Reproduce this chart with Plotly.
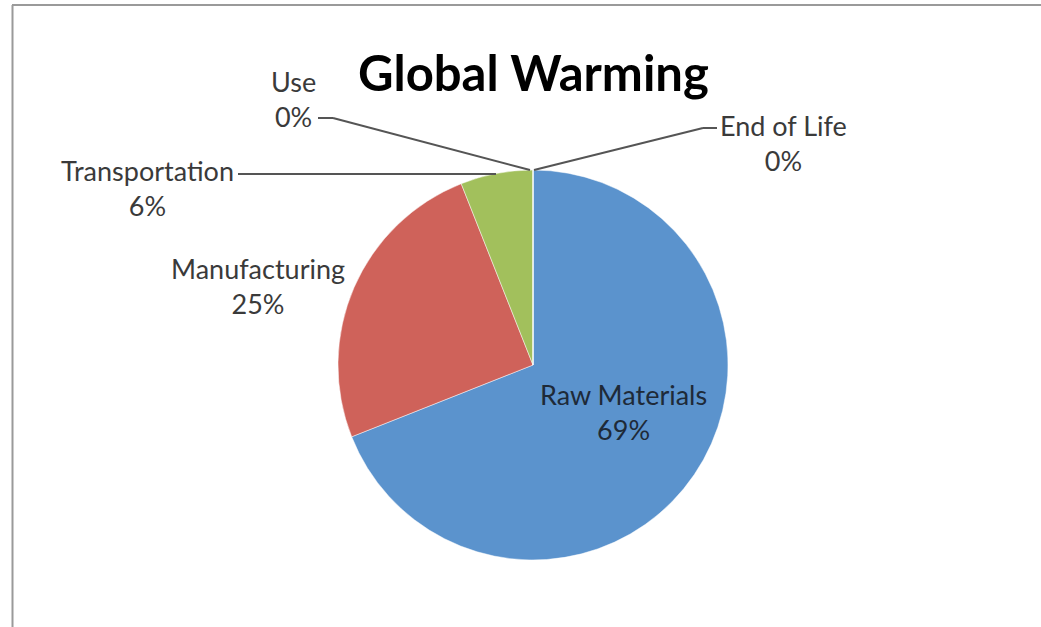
import plotly.graph_objects as go

W, H = 1041, 627

# ---- data ----
categories = ["Raw Materials", "Manufacturing", "Transportation", "Use", "End of Life"]
values = [69, 25, 6, 0, 0]
colors = ["#5B93CD", "#CF625A", "#A2C05C", "#8064A2", "#4BACC6"]
title_text = "Global Warming"

def px(x):
    return x / W

def py(y):
    return 1 - y / H

cx, cy, r = 533, 365, 195

fig = go.Figure(go.Pie(
    labels=categories,
    values=values,
    sort=False,
    direction="clockwise",
    rotation=0,
    marker=dict(colors=colors, line=dict(color="rgba(255,255,255,0.6)", width=0.8)),
    textinfo="none",
    hoverinfo="label+percent",
    showlegend=False,
    domain=dict(x=[px(cx - r), px(cx + r)], y=[py(cy + r), py(cy - r)]),
))

total = sum(values)
pct = {c: f"{round(v / total * 100)}%" for c, v in zip(categories, values)}

label_font = dict(family="Lato, Carlito, Calibri, sans-serif", size=27, color="#3A3A3A")
label_pos = {
    "Raw Materials": (623, 412, "#1E2A38"),
    "Manufacturing": (258, 286, "#3A3A3A"),
    "Transportation": (147, 188, "#3A3A3A"),
    "Use": (293, 99, "#3A3A3A"),
    "End of Life": (783, 143, "#3A3A3A"),
}
annotations = []
for c in categories:
    x, y, col = label_pos[c]
    annotations.append(dict(
        x=px(x), y=py(y), xref="paper", yref="paper",
        text=f"{c}<br>{pct[c]}", showarrow=False,
        font=dict(label_font, color=col), align="center",
        xanchor="center", yanchor="middle",
    ))
annotations.append(dict(
    x=px(533), y=py(72), xref="paper", yref="paper", text=f"<b>{title_text}</b>",
    showarrow=False, font=dict(family="Lato, Carlito, Calibri, sans-serif", size=49, color="#000000"),
    xanchor="center", yanchor="middle",
))

line_style = dict(color="#555555", width=2)
segments = [
    # Use leader
    (318, 118, 333, 118), (333, 118, 530, 170),
    # Transportation leader
    (238, 174, 496, 174),
    # End of Life leader
    (534, 170, 703, 128), (703, 128, 717, 128),
]
shapes = [dict(type="line", xref="paper", yref="paper",
               x0=px(a), y0=py(b), x1=px(c), y1=py(d), line=line_style)
          for a, b, c, d in segments]
# frame border (top and left)
shapes.append(dict(type="line", xref="paper", yref="paper", x0=px(12), y0=py(5), x1=1, y1=py(5),
                   line=dict(color="#9A9A9A", width=2)))
shapes.append(dict(type="line", xref="paper", yref="paper", x0=px(12.5), y0=py(5), x1=px(12.5), y1=0,
                   line=dict(color="#9A9A9A", width=2)))

fig.update_layout(
    width=W, height=H,
    margin=dict(l=0, r=0, t=0, b=0),
    paper_bgcolor="white", plot_bgcolor="white",
    annotations=annotations,
    shapes=shapes,
)

fig.write_html("out.html")
